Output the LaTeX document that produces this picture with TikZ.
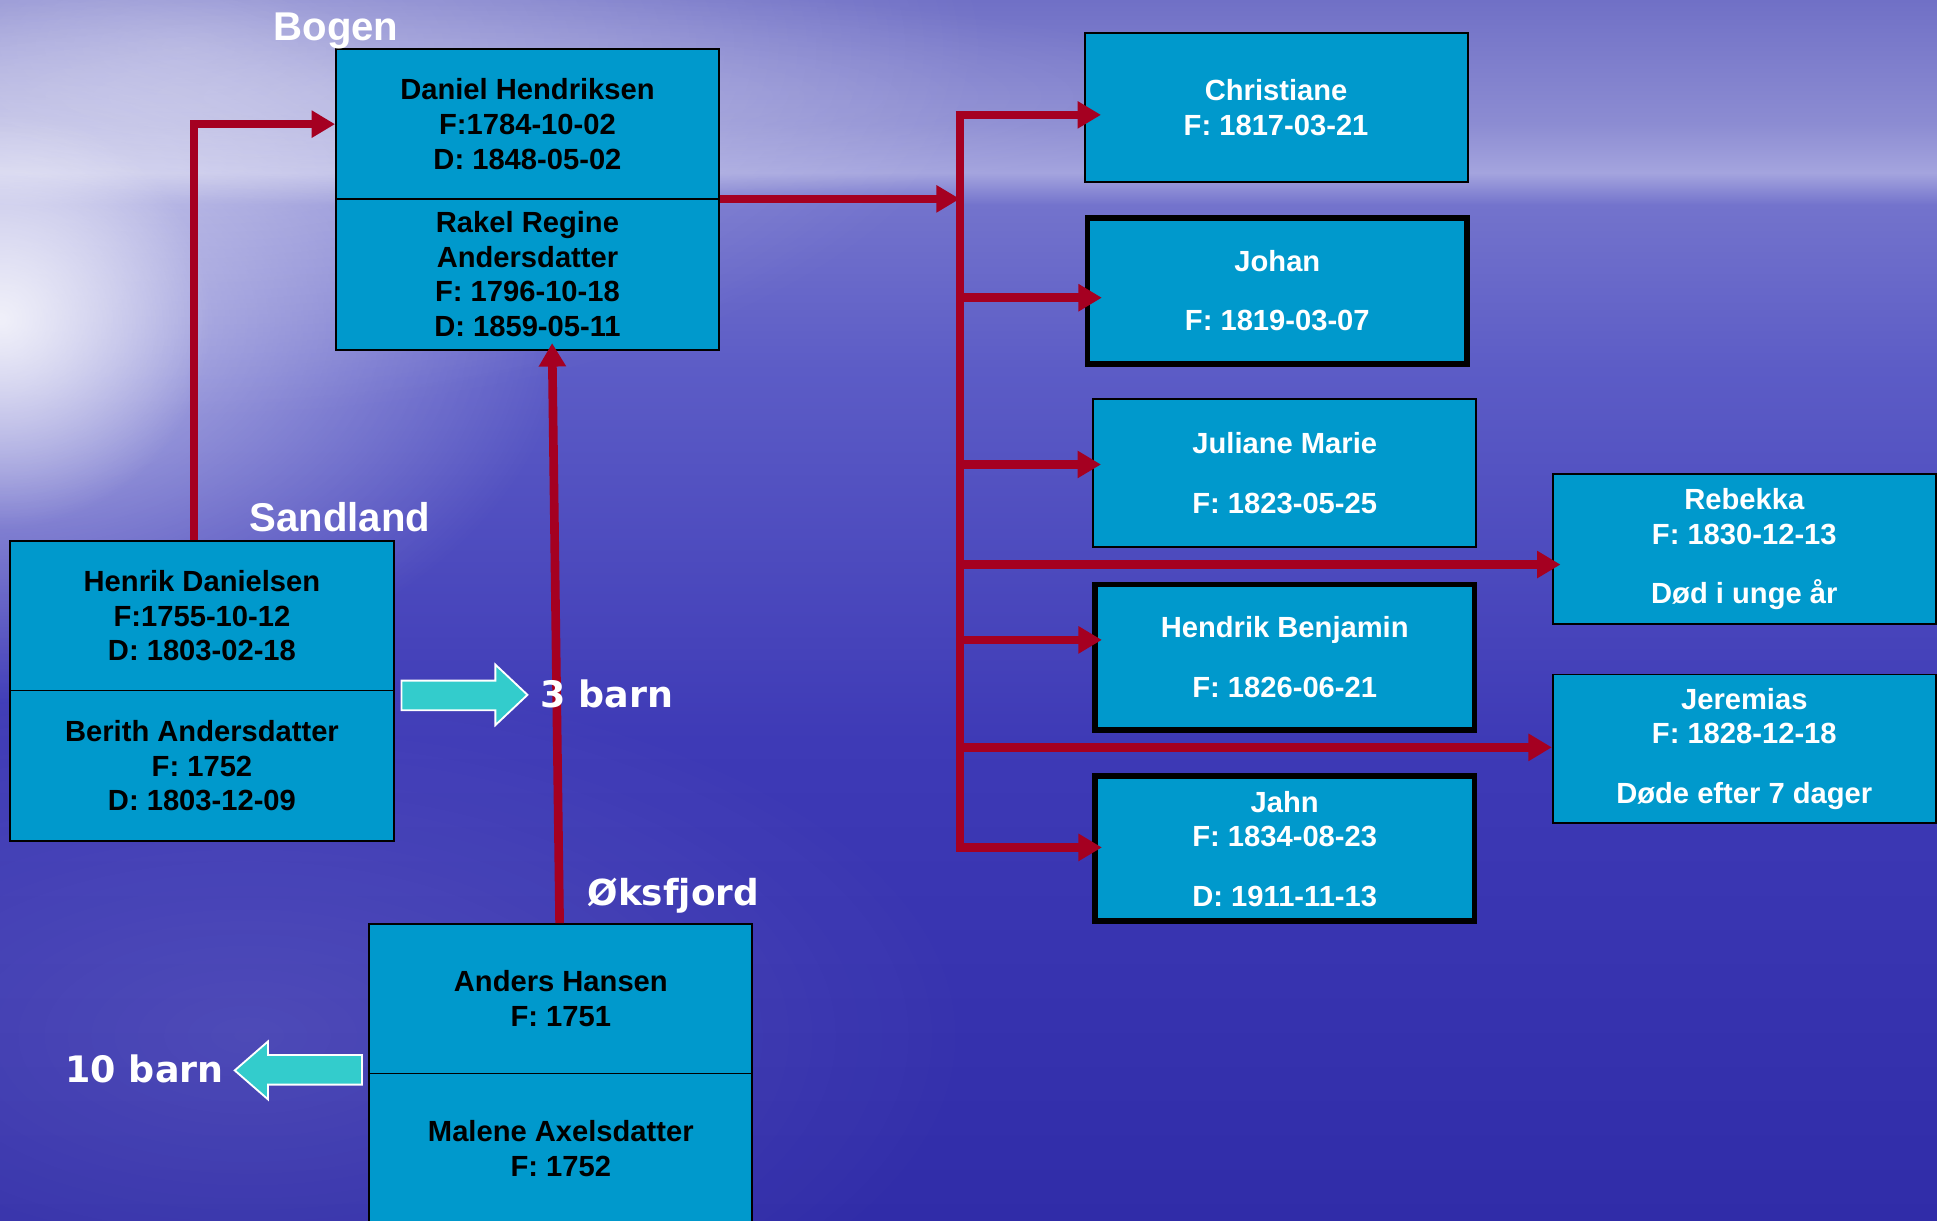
\documentclass[tikz,border=0pt]{standalone}
\usepackage{fontspec}
\setmainfont{Liberation Sans}
\newfontfamily\dvfont{DejaVu Sans}
\usetikzlibrary{arrows.meta,fadings,calc}
\definecolor{boxfill}{RGB}{0,153,204}
\definecolor{linered}{RGB}{165,0,33}
\definecolor{cyanarrow}{RGB}{51,204,204}
\definecolor{bgbot}{RGB}{48,44,168}
\definecolor{bgsix}{RGB}{62,58,182}
\definecolor{bgthree}{RGB}{92,92,198}
\definecolor{bgonesix}{RGB}{115,115,204}
\definecolor{bgonefour}{RGB}{164,164,222}
\definecolor{bgone}{RGB}{140,140,210}
\definecolor{bgtop}{RGB}{112,112,198}
\pgfdeclareverticalshading{bgshade}{100bp}{color(0bp)=(bgbot); color(25bp)=(bgbot); color(44.64bp)=(bgsix); color(59.82bp)=(bgthree); color(66.6bp)=(bgonesix); color(67.91bp)=(bgonefour); color(69.94bp)=(bgone); color(75bp)=(bgtop); color(100bp)=(bgtop)}
\pgfdeclareradialshading{glowsh}{\pgfpointorigin}{color(0bp)=(pgftransparent!0); color(25bp)=(pgftransparent!100); color(50bp)=(pgftransparent!100)}
\pgfdeclarefading{softglow}{\pgfuseshading{glowsh}}
\newcommand\bxfont{\fontsize{23.6pt}{28pt}\selectfont\bfseries}
\newcommand\plfont{\fontsize{32.5pt}{36pt}\selectfont\bfseries}
\newcommand\brfont{\dvfont\fontsize{29.5pt}{34pt}\selectfont\bfseries}
\tikzset{
  pbox/.style={draw=black, line width=1.5pt, fill=boxfill, minimum width=310pt,
    minimum height=121pt, align=center, font=\bxfont, text=black, inner sep=0pt},
  cbox/.style={pbox, text=white},
  thickbox/.style={line width=4.6pt, minimum width=307.4pt, minimum height=117.6pt},
  redline/.style={draw=linered, line width=7pt},
  redarrow/.style={redline, -{Triangle[length=19pt,width=21pt]}},
  placelbl/.style={text=white, font=\plfont, inner sep=0pt},
  barnlbl/.style={text=white, font=\brfont, inner sep=0pt},
  cyanarr/.style={fill=cyanarrow, draw=white, line width=1.5pt, line join=miter},
}
\begin{document}
\begin{tikzpicture}[x=1pt,y=1pt]
\useasboundingbox (0,0) rectangle (1568,988);
\clip (0,0) rectangle (1568,988);
% background
\shade[shading=bgshade] (0,0) rectangle (1568,988);
\fill[white, path fading=softglow, fill opacity=0.35] (-500,650) rectangle (800,1250);
\fill[white, path fading=softglow, fill opacity=0.6] (-460,418) rectangle (460,1038);
\fill[white, path fading=softglow, fill opacity=0.75] (-170,560) rectangle (170,900);
\fill[white, path fading=softglow, fill opacity=0.2] (-300,820) rectangle (1000,1000);
\fill[white, path fading=softglow, fill opacity=0.12] (-400,-150) rectangle (800,450);
\begin{scope}[yshift=988pt, y=-1pt]
% parents
\node[pbox] (daniel) at (427,100.5) {Daniel Hendriksen\\F:1784-10-02\\D: 1848-05-02};
\node[pbox, minimum height=122pt] (rakel) at (427,222) {Rakel Regine\\Andersdatter\\F: 1796-10-18\\D: 1859-05-11};
\node[pbox, minimum width=311pt] (henrik) at (163.5,498.5) {Henrik Danielsen\\F:1755-10-12\\D: 1803-02-18};
\node[pbox, minimum width=311pt, minimum height=122pt] (berith) at (163.5,620) {Berith Andersdatter\\F: 1752\\D: 1803-12-09};
\node[pbox] (anders) at (454,808.5) {Anders Hansen\\F: 1751};
\node[pbox, minimum height=122pt] (malene) at (454,930) {Malene Axelsdatter\\F: 1752};
% children
\node[cbox, minimum height=120pt] (christiane) at (1033,87) {Christiane\\F: 1817-03-21};
\node[cbox, thickbox, minimum height=118.4pt] (johan) at (1034,235.5) {Johan\\[20pt]F: 1819-03-07};
\node[cbox, minimum height=120pt] (juliane) at (1040,383) {Juliane Marie\\[20pt]F: 1823-05-25};
\node[cbox, minimum width=310pt] (rebekka) at (1412,444.5) {Rebekka\\F: 1830-12-13\\[20pt]Død i unge år};
\node[cbox, thickbox] (hendrik) at (1040,532) {Hendrik Benjamin\\[20pt]F: 1826-06-21};
\node[cbox, minimum height=120pt] (jeremias) at (1412,606) {Jeremias\\F: 1828-12-18\\[20pt]Døde efter 7 dager};
\node[cbox, thickbox] (jahn) at (1040,687) {Jahn\\F: 1834-08-23\\[20pt]D: 1911-11-13};
% connectors
\draw[redarrow] ([xshift=-6.5pt]henrik.north) |- (daniel.west);
\draw[redarrow, shorten >=-6pt] ([xshift=-1pt]anders.north) -- ([xshift=20pt]rakel.south);
\coordinate (bus) at (777,161);
\draw[redarrow] (bus -| daniel.east) -- (bus);
\coordinate (b1) at (777,93);
\coordinate (b2) at (777,241);
\coordinate (b3) at (777,376);
\coordinate (b4) at (777,457);
\coordinate (b5) at (777,518);
\coordinate (b6) at (777,605);
\coordinate (b7) at (777,686);
\draw[redline] (b7) -- (b1);
\draw[redarrow, shorten >=-14pt] ([xshift=-3.5pt]b1) -- (b1 -| christiane.west);
\draw[redarrow, shorten >=-14pt] (b2) -- (b2 -| johan.west);
\draw[redarrow, shorten >=-7pt] (b3) -- (b3 -| juliane.west);
\draw[redarrow, shorten >=-7pt] (b4) -- (b4 -| rebekka.west);
\draw[redarrow, shorten >=-8pt] (b5) -- (b5 -| hendrik.west);
\draw[redarrow] (b6) -- (b6 -| jeremias.west);
\draw[redarrow, shorten >=-8pt] ([xshift=-3.5pt]b7) -- (b7 -| jahn.west);
% cyan block arrows
\filldraw[cyanarr] (325,551) -- (401,551) -- (401,538) -- (427,562.5) -- (401,587) -- (401,575) -- (325,575) -- cycle;
\filldraw[cyanarr] (293,854) -- (217,854) -- (217,843) -- (190,866.5) -- (217,890) -- (217,878) -- (293,878) -- cycle;
% labels
\node[placelbl] (bogen) at (272,25) {Bogen};
\node[placelbl] (sandland) at (275,419) {Sandland};
\node[barnlbl, font=\dvfont\fontsize{29pt}{34pt}\selectfont\bfseries] (oksfjord) at (545,725) {Øksfjord};
\node[barnlbl] (trebarn) at (491.5,562) {3 barn};
\node[barnlbl] (tibarn) at (117,865) {10 barn};
\end{scope}
\end{tikzpicture}
\end{document}
